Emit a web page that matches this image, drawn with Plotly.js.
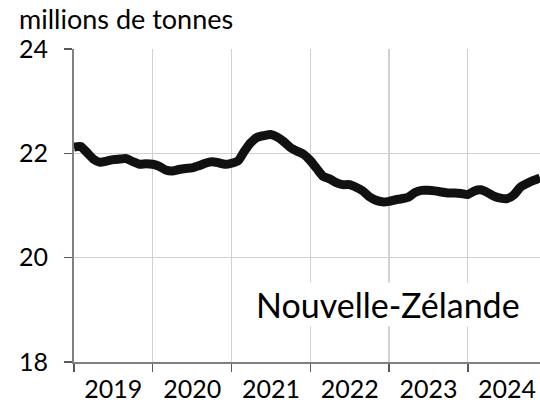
<!DOCTYPE html>
<html>
<head>
<meta charset="utf-8">
<script src="https://cdn.plot.ly/plotly-3.0.1.min.js"></script>
<style>html,body{margin:0;padding:0;background:#fff;}#chart{width:540px;height:403px;}</style>
</head>
<body>
<div id="chart"></div>
<script>
// Monthly series, January 2019 to December 2024 (millions de tonnes)
const startYear = 2019;
const values = [
  22.12, 22.13, 22.02, 21.89, 21.83, 21.85, 21.88, 21.89, 21.90, 21.84, 21.79, 21.80,
  21.79, 21.75, 21.68, 21.66, 21.69, 21.71, 21.72, 21.76, 21.81, 21.84, 21.82, 21.79,
  21.81, 21.86, 22.04, 22.21, 22.31, 22.34, 22.36, 22.31, 22.22, 22.11, 22.04, 21.98,
  21.86, 21.70, 21.56, 21.51, 21.44, 21.40, 21.40, 21.35, 21.28, 21.17, 21.10, 21.07,
  21.08, 21.11, 21.13, 21.16, 21.25, 21.29, 21.29, 21.28, 21.26, 21.24, 21.24, 21.23,
  21.21, 21.28, 21.30, 21.25, 21.18, 21.14, 21.13, 21.20, 21.35, 21.42, 21.48, 21.53
];
const yTicks = [18, 20, 22, 24];
const unitLabel = "millions de tonnes";
const countryLabel = "Nouvelle-Zélande";

const dates = values.map((v, i) => {
  const y = startYear + Math.floor(i / 12);
  const m = (i % 12) + 1;
  return y + "-" + String(m).padStart(2, "0") + "-01";
});

const trace = {
  x: dates, y: values, type: "scatter", mode: "lines",
  line: {color: "#111111", width: 9, shape: "spline", smoothing: 0.6},
  hoverinfo: "skip"
};

const font = "Lato, 'Open Sans', sans-serif";

const layout = {
  width: 540, height: 403,
  margin: {l: 74, r: 0, t: 49, b: 41},
  paper_bgcolor: "#fff", plot_bgcolor: "#fff",
  showlegend: false,
  font: {family: font, color: "#000"},
  xaxis: {
    type: "date",
    range: [dates[0], dates[dates.length - 1]],
    tick0: dates[0], dtick: "M12",
    ticklabelmode: "period", tickformat: "%Y",
    ticks: "outside", ticklen: 8, tickwidth: 1.5, tickcolor: "#595959",
    showgrid: true, gridcolor: "#d0d0d0", gridwidth: 1.2,
    showline: true, linecolor: "#808080", linewidth: 2,
    tickfont: {size: 25, family: font, color: "#000"},
    ticklabelstandoff: -4,
    zeroline: false, fixedrange: true
  },
  yaxis: {
    range: [18, 24], tickvals: yTicks, ticktext: yTicks.map(String),
    ticks: "outside", ticklen: 8, tickwidth: 1.5, tickcolor: "#595959",
    showgrid: true, gridcolor: "#d0d0d0", gridwidth: 1.2,
    showline: true, linecolor: "#808080", linewidth: 2,
    tickfont: {size: 25, family: font, color: "#000"},
    ticklabelstandoff: 11,
    zeroline: false, fixedrange: true
  },
  annotations: [
    {text: unitLabel, xref: "paper", yref: "paper", x: -0.122, y: 1.099,
     xanchor: "left", yanchor: "middle", showarrow: false,
     font: {size: 27, family: font, color: "#000"}},
    {text: countryLabel, xref: "paper", yref: "paper", x: 0.674, y: 0.185,
     xanchor: "center", yanchor: "middle", showarrow: false, bgcolor: "#fff",
     font: {size: 34, family: font, color: "#000"}}
  ]
};

Plotly.newPlot("chart", [trace], layout, {staticPlot: true, displayModeBar: false});
</script>
</body>
</html>
